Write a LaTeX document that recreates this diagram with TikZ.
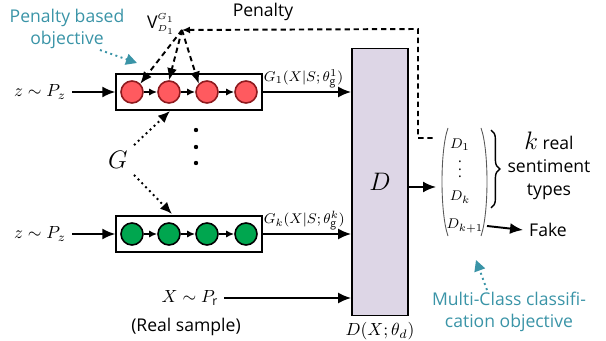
\documentclass[tikz,border=0pt]{standalone}
\usepackage{fontspec}
\setmainfont{Open Sans}
\usetikzlibrary{arrows.meta,decorations.pathreplacing,positioning,fit}
\definecolor{tealtxt}{HTML}{3A94A7}
\definecolor{redunit}{HTML}{FF5A5F}
\definecolor{redline}{HTML}{8E1A1E}
\definecolor{greenunit}{HTML}{00A64F}
\definecolor{dfill}{HTML}{DDD6E6}
\tikzset{
  redcell/.style={circle,draw=redline,fill=redunit,line width=0.9pt,minimum size=0.44cm,inner sep=0pt},
  greencell/.style={circle,draw=black,fill=greenunit,line width=0.9pt,minimum size=0.44cm,inner sep=0pt},
  genbox/.style={draw,line width=1pt,inner xsep=0.08cm,inner ysep=0.13cm},
  flow/.style={-{Latex[length=2.6mm,width=2.2mm]},line width=1.1pt},
  small flow/.style={-{Latex[length=1.6mm,width=1.4mm]},line width=0.9pt},
  pen/.style={dashed,line width=1.1pt,dash pattern=on 3pt off 2.2pt},
  hint/.style={dotted,line width=1.1pt,tealtxt,-{Triangle[length=2.2mm,width=2.2mm]}},
  note/.style={text=tealtxt,font=\fontsize{10}{12.5}\selectfont,align=center},
  lab/.style={inner sep=0.5pt,font=\footnotesize},
  entry/.style={inner sep=0pt,font=\footnotesize}
}
\begin{document}
\begin{tikzpicture}[x=0.02cm,y=-0.02cm]
\useasboundingbox (0,0) rectangle (606,341);
% generators
\foreach \i/\x in {1/132,2/169,3/207,4/246}{
  \node[redcell] (r\i) at (\x,92) {};
  \node[greencell] (g\i) at (\x,234) {};
}
\foreach \i/\j in {1/2,2/3,3/4}{
  \draw[small flow] (r\i) -- (r\j);
  \draw[small flow] (g\i) -- (g\j);
}
\node[genbox,fit=(r1)(r4)] (topbox) {};
\node[genbox,fit=(g1)(g4)] (botbox) {};
\node (z1) at (40,92) {$z\sim P_z$};
\node (z2) at (40,234) {$z\sim P_z$};
\draw[flow] (z1) -- (topbox);
\draw[flow] (z2) -- (botbox);
% dots and G
\foreach \y in {130,147,163} \fill (196,\y) circle (2.2);
\node[font=\Large] (G) at (118,160) {$G$};
\draw[dotted,line width=1.1pt,-{Latex[length=2.4mm,width=2mm]}] (G.north east) -- (170,111);
\draw[dotted,line width=1.1pt,-{Latex[length=2.4mm,width=2mm]}] (G.south east) -- (172,214);
% discriminator
\node[draw,fill=dfill,line width=1pt,minimum width=1.12cm,minimum height=5.34cm,font=\Large] (D) at (380,182) {$D$};
\draw[flow] (topbox.east) -- (topbox.east -| D.west);
\node[lab,anchor=south west] (g1lab) at ([yshift=0.06cm]topbox.east) {$G_1(X{|}S;\theta_{\mathrm{g}}^{1})$};
\draw[flow] (botbox.east) -- (botbox.east -| D.west);
\node[lab,anchor=south west] (gklab) at ([yshift=0.06cm]botbox.east) {$G_k(X{|}S;\theta_{\mathrm{g}}^{k})$};
\node (xr) at (190,298) {$X\sim P_{\mathrm{r}}$};
\draw[flow] (xr) -- (xr -| D.west);
\node (real) at (186,327) {(Real sample)};
\node[below=0pt of D] (dlab) {$D(X;\theta_d)$};
% penalty
\node[inner sep=0pt] (V) at (161,24) {$\mathrm{V}^{\scriptscriptstyle G_1}_{\scriptscriptstyle D_1}$};
\coordinate (vtip) at (182,30);
\draw[pen,-{Latex[length=2.4mm,width=2mm]}] (vtip) -- (r1.north east);
\draw[pen,-{Latex[length=2.4mm,width=2mm]}] (vtip) -- (r2.north);
\draw[pen,-{Latex[length=2.4mm,width=2mm]}] (vtip) -- (r3.north west);
\draw[pen,{Latex[length=1.6mm,width=1.4mm]}-] (vtip) -- (418,29) -- (418,138) -- (433,138);
\node (pen) at (263,12) {Penalty};
% output vector
\node[entry] (d1) at (460,145) {$D_1$};
\node[entry] (dv) at (460,164) {$\vdots$};
\node[entry] (dk) at (460,197) {$D_k$};
\node[entry] (dk1) at (465,226) {$D_{k+1}$};
\draw[line width=0.5pt,gray!70!black] (448,128) .. controls (440,150) and (440,213) .. (448,236);
\draw[line width=0.5pt,gray!70!black] (481,128) .. controls (489,150) and (489,213) .. (481,236);
\draw[flow] (D.east |- 0,187) -- (436,187);
\draw[decorate,decoration={brace,amplitude=5pt},line width=0.8pt] (491,130) -- (491,208);
\node[align=center,font=\fontsize{10}{13}\selectfont] (types) at (549,166) {{\Large$k$} real\\sentiment\\types};
\node (fake) at (548,230) {Fake};
\draw[flow] (487,226) -- (fake.west);
% objectives
\node[note] (penobj) at (67,29) {Penalty based\\objective};
\draw[hint] (100,50) -- (137,63);
\node[note] (mcobj) at (509,312) {Multi-Class classifi-\\cation objective};
\draw[hint] (487,290) -- (476,260);
\end{tikzpicture}
\end{document}
